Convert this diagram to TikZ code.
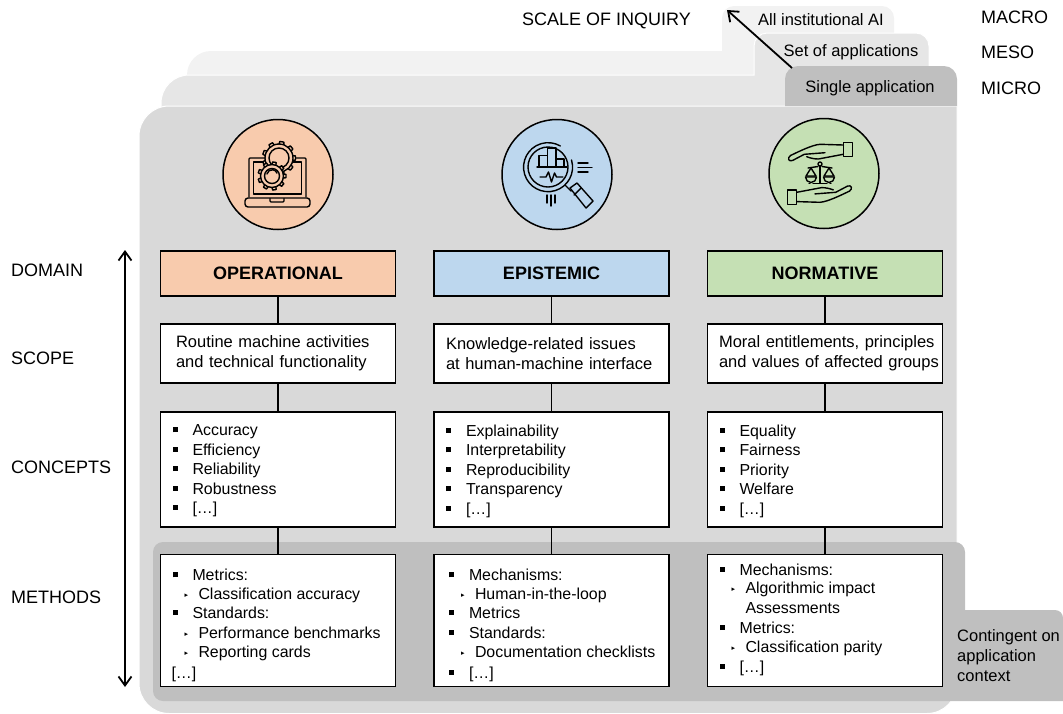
\documentclass[tikz,border=0pt]{standalone}
\usepackage{fontspec}
\usetikzlibrary{arrows.meta,calc}
\setmainfont{Liberation Sans}
\newfontfamily\djv{DejaVu Sans}
\definecolor{opc}{HTML}{F8CBAD}
\definecolor{epc}{HTML}{BDD7EE}
\definecolor{noc}{HTML}{C5E0B4}
\definecolor{pan}{HTML}{D9D9D9}
\definecolor{tabc}{HTML}{BFBFBF}
\definecolor{midc}{HTML}{E6E6E6}
\definecolor{lic}{HTML}{F2F2F2}
\newcommand{\fs}{\fontsize{16.5}{19.4}\selectfont}
\newcommand{\fb}{\fontsize{15.9}{19.4}\selectfont}
\newcommand{\fsc}{\fontsize{16.5}{20}\selectfont}
\newcommand{\fl}{\fontsize{18}{21}\selectfont}
\newcommand{\Li}[2][0pt]{\par\vspace{#1}\noindent\hspace*{12pt}\rule[3.5pt]{5pt}{5pt}\hspace*{15pt}#2}
\newcommand{\Su}[2][0pt]{\par\vspace{#1}\noindent\hspace*{24pt}\makebox[14pt][l]{\raisebox{2pt}{\fontsize{7}{7}\selectfont\djv ▸}}#2}
\newcommand{\Pl}[2][0pt]{\par\vspace{#1}\noindent\hspace*{11pt}#2}
\newcommand{\Bx}[3]{\parbox[t][#1pt][t]{235pt}{\fb\setlength{\parskip}{0pt}\setlength{\parindent}{0pt}\vspace*{#2pt}#3}}
\newcommand{\Sc}[3]{\hspace*{#1pt}#2\\\hspace*{#1pt}#3}
\newcommand{\gearic}[7]{% x y R r n tooth fill
  \foreach \ang in {1,...,#5}{
    \pgfmathsetmacro{\aa}{\ang*360/#5}
    \draw[icon,fill=#7] ($(#1,#2)+(\aa-10:#3)$) -- ($(#1,#2)+(\aa-7:#3+#6)$) -- ($(#1,#2)+(\aa+7:#3+#6)$) -- ($(#1,#2)+(\aa+10:#3)$);
  }
  \draw[icon,fill=#7] (#1,#2) circle[radius=#3];
  \draw[icon] (#1,#2) circle[radius=#4];
}
\tikzset{
  dombox/.style={draw=black,line width=1.8pt,minimum width=235pt,minimum height=45pt,inner sep=0pt,font=\fl\bfseries},
  txtbox/.style={draw=black,line width=1.8pt,fill=white,minimum width=235pt,text width=235pt,minimum height=59pt,inner sep=0pt,font=\fsc,align=left},
  lstbox/.style={draw=black,line width=1.8pt,fill=white,inner sep=0pt,font=\fb},
  link/.style={line width=1.8pt,draw=black},
  sidelab/.style={font=\fl,anchor=west,inner sep=0pt},
  tablab/.style={font=\fs,inner sep=0pt},
  iconc/.style={circle,draw=black,line width=1.5pt,minimum size=110pt,inner sep=0pt},
  icon/.style={draw=black,line width=1.4pt,line cap=round,line join=round},
  barb/.style={-{Straight Barb[length=9pt,width=14pt,line width=1.8pt]},line width=1.8pt,draw=black},
  barbb/.style={{Straight Barb[length=9pt,width=13pt,line width=1.8pt]}-{Straight Barb[length=9pt,width=13pt,line width=1.8pt]},line width=1.8pt,draw=black}
}
\begin{document}
\begin{tikzpicture}[x=1pt,y=-1pt]
\useasboundingbox (0,0) rectangle (1063,713);
% layers
\fill[lic] (187,130) [rounded corners=24] -- (187,51) [sharp corners] -- (722,51) [rounded corners=12] -- (722,6) -- (894,6) [sharp corners] -- (894,130) -- cycle;
\path[fill=midc,draw=white,line width=1pt] (161,130) [rounded corners=28] -- (161,75) [sharp corners] -- (754,75) [rounded corners=13] -- (754,33) -- (929,33) [sharp corners] -- (929,130) -- cycle;
\path[fill=pan,draw=white,line width=1pt] (139,400) [rounded corners=30] -- (139,106) [sharp corners] -- (957,106) -- (957,400) [rounded corners=30] -- (957,713.5) -- (139,713.5) [sharp corners] -- cycle;
\fill[tabc] (785,106) [rounded corners=13] -- (785,66) -- (957,66) [sharp corners] -- (957,106) -- cycle;
% band
\fill[tabc] (153,600) [rounded corners=10] -- (153,542) -- (965,542) [sharp corners] -- (965,610) [rounded corners=8] -- (1063,610) [sharp corners] -- (1063,701) [rounded corners=10] -- (153,701) [sharp corners] -- cycle;
% top labels
\node[sidelab] (scale) at (522,21) {SCALE OF INQUIRY};
\node[tablab] (allai) at (821,20) {All institutional AI};
\node[tablab] (setap) at (851,52) {Set of applications};
\node[tablab] (sinap) at (870,88.5) {Single application};
\node[sidelab] (macro) at (981,17) {MACRO};
\node[sidelab] (meso) at (981,52.5) {MESO};
\node[sidelab] (micro) at (981,88.5) {MICRO};
\node[sidelab] (domain) at (11,270) {DOMAIN};
\node[sidelab] (scope) at (11,358) {SCOPE};
\node[sidelab] (concepts) at (11,467.5) {CONCEPTS};
\node[sidelab] (methods) at (11,597) {METHODS};
\coordinate (sa) at (792,68);
\coordinate (sb) at (727,10);
\draw[barb] (sa) -- (sb);
\coordinate (va) at (125,250);
\coordinate (vb) at (125,687);
\draw[barbb] (vb) -- (va);
% domain boxes
\node[dombox,fill=opc] (od) at (278,273.5) {OPERATIONAL};
\node[dombox,fill=epc] (ed) at (551.5,273.5) {EPISTEMIC};
\node[dombox,fill=noc] (nd) at (825,273.5) {NORMATIVE};
% scope
\node[txtbox] (os) at (278,353.5) {\Sc{15.5}{Routine machine activities}{and technical functionality}};
\node[txtbox] (es) at (551.5,353.5) {\Sc{12}{Knowledge-related issues}{at human-machine interface}};
\node[txtbox] (ns) at (825,353.5) {\Sc{11.5}{Moral entitlements, principles}{and values of affected groups}};
% concepts
\node[lstbox,anchor=north] (oc) at (278,411) {\Bx{115}{13}{\Li{Accuracy}\Li{Efficiency}\Li{Reliability}\Li{Robustness}\Li{[…]}}};
\node[lstbox,anchor=north] (ec) at (551.5,411) {\Bx{115}{13}{\Li{Explainability}\Li{Interpretability}\Li{Reproducibility}\Li{Transparency}\Li{[…]}}};
\node[lstbox,anchor=north] (nc) at (825,411) {\Bx{115}{13}{\Li{Equality}\Li{Fairness}\Li{Priority}\Li{Welfare}\Li{[…]}}};
% methods
\node[lstbox,anchor=north] (om) at (278,553.5) {\Bx{132}{15}{\Li{Metrics:}\Su[-1pt]{Classification accuracy}\Li{Standards:}\Su[.5pt]{Performance benchmarks}\Su[-1pt]{Reporting cards}\Pl[2pt]{[…]}}};
\node[lstbox,anchor=north] (em) at (551.5,553.5) {\Bx{132}{15}{\leftskip=3pt\relax\Li{Mechanisms:}\Su[-1pt]{Human-in-the-loop}\Li{Metrics}\Li[.5pt]{Standards:}\Su[-1pt]{Documentation checklists}\Li[2pt]{[…]}}};
\node[lstbox,anchor=north] (nm) at (825,553.5) {\Bx{132}{9.5}{\Li{Mechanisms:}\Su[-1pt]{Algorithmic impact}\par\noindent\hspace*{38pt}Assessments\Li[1pt]{Metrics:}\Su[-1pt]{Classification parity}\Li[1pt]{[…]}}};
% connectors
\foreach \c in {o,e,n}{
  \draw[link] (\c d.south) -- (\c s.north);
  \draw[link] (\c s.south) -- (\c c.north);
  \draw[link] (\c c.south) -- (\c m.north);
}
\node[font=\fsc,align=left,anchor=north west,inner sep=0pt] (cont) at (957,629) {Contingent on\\application\\context};
% icon circles
\node[iconc,fill=opc] (oi) at (278,174.5) {};
\node[iconc,fill=epc] (ei) at (557,174.5) {};
\node[iconc,fill=noc] (ni) at (824,173.5) {};
% operational icon
\draw[icon,rounded corners=1pt] (249,197) -- (249,158) -- (306,158) -- (306,197);
\draw[icon] (253.5,194) -- (253.5,162) -- (301.5,162) -- (301.5,194) -- cycle;
\draw[icon,rounded corners=3pt] (245,198) rectangle (310,207);
\draw[icon,rounded corners=1pt] (270,198.5) -- (270,202) -- (284,202) -- (284,198.5);
\gearic{279}{158}{14}{10}{9}{2.6}{opc}
\gearic{272}{176}{11.5}{7.5}{9}{2.6}{opc}
\draw[icon] (267,174) arc[start angle=190,end angle=340,radius=5.2];
% epistemic icon
\draw[icon] (548,167) circle[radius=20];
\draw[icon] (571.5,160) arc[start angle=-17,end angle=300,radius=24.5];
\draw[icon] (537,167) -- (567,167);
\draw[icon] (539,167) -- (539,155.5) -- (547.5,155.5) -- (547.5,167);
\draw[icon] (547.5,155.5) -- (547.5,148) -- (556,148) -- (556,167);
\draw[icon] (556,159) -- (564,159) -- (564,167);
\draw[icon] (540,177) -- (546,177) -- (548.5,172) -- (551.5,182) -- (554.5,173) -- (556.5,177) -- (563,177);
\draw[icon] (578,163) -- (588,163);
\draw[icon] (578,167.5) -- (592,167.5);
\draw[icon] (578,172) -- (588,172);
\draw[icon] (547,195) -- (547,203);
\draw[icon] (551,195) -- (551,206);
\draw[icon] (555,195) -- (555,203);
\draw[icon] (565,185) -- (571,191);
\draw[icon] (570,188) -- (577,183) -- (593,201) -- (586,208) -- cycle;
\draw[icon] (574,195) -- (581,188);
% normative icon
\foreach \ang in {0,180}{
\begin{scope}[rotate around={\ang:(820,173.3)}]
\draw[icon] (843.3,142.3) rectangle (852.3,156.7);
\draw[icon] (843.3,145) -- (820,144.3) .. controls (812,145) and (800,151) .. (790.5,155.5) .. controls (787,158) and (788.5,162) .. (792.5,160.5) -- (804.3,154.3) -- (825,152.7);
\draw[icon] (806.7,156.7) .. controls (810,158) and (814,159) .. (818.3,159) -- (843.3,154.3);
\end{scope}}
\draw[icon] (820,166) -- (820,183);
\draw[icon] (820,164) circle[radius=2];
\draw[icon] (808,168) -- (818,166.5);
\draw[icon] (832,168) -- (822,166.5);
\draw[icon] (811,168) -- (806,176) -- (816,176) -- cycle;
\draw[icon] (829,168) -- (824,176) -- (834,176) -- cycle;
\draw[icon] (805.5,177) arc[start angle=180,end angle=0,radius=5.5] -- cycle;
\draw[icon] (823.5,177) arc[start angle=180,end angle=0,radius=5.5] -- cycle;
\draw[icon] (813,183.5) -- (827,183.5);
\draw[icon] (809,183.5) -- (810,183.5);
\draw[icon] (830,183.5) -- (831,183.5);
\end{tikzpicture}
\end{document}
